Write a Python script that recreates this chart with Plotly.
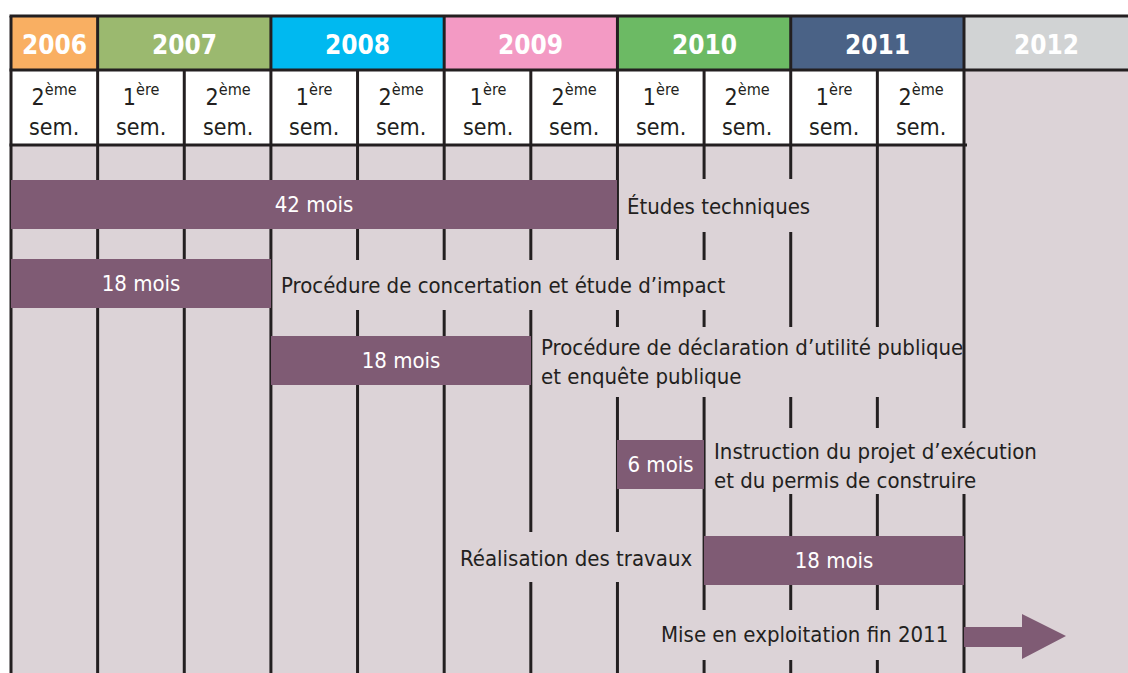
import plotly.graph_objects as go

# ---------------- data ----------------
years = ["2006", "2007", "2008", "2009", "2010", "2011", "2012"]
year_start_month = [0, 6, 18, 30, 42, 54, 66]      # months since 1 July 2006
year_end_month = [6, 18, 30, 42, 54, 66, None]     # None = open-ended
year_colors = ["#F9AF62", "#9BB96F", "#00B9F0", "#F39AC4", "#6CBA64", "#4A6286", "#D1D3D4"]

semester_labels = [
    "2<sup>ème</sup><br>sem.", "1<sup>ère</sup><br>sem.", "2<sup>ème</sup><br>sem.",
    "1<sup>ère</sup><br>sem.", "2<sup>ème</sup><br>sem.", "1<sup>ère</sup><br>sem.",
    "2<sup>ème</sup><br>sem.", "1<sup>ère</sup><br>sem.", "2<sup>ème</sup><br>sem.",
    "1<sup>ère</sup><br>sem.", "2<sup>ème</sup><br>sem.",
]
semester_length = 6

tasks = [
    "Études techniques",
    "Procédure de concertation et étude d’impact",
    "Procédure de déclaration d’utilité publique<br>et enquête publique",
    "Instruction du projet d’exécution<br>et du permis de construire",
    "Réalisation des travaux",
]
task_start = [0, 0, 18, 42, 48]
task_duration = [42, 18, 18, 6, 18]
label_side = ["right", "right", "right", "right", "left"]

milestone_label = "Mise en exploitation fin 2011"
milestone_month = 66

# ---------------- layout / style ----------------
W, H = 1128, 673
X0_PX, PX_PER_MONTH = 11, (964 - 11) / 66.0
x_min = -X0_PX / PX_PER_MONTH
x_max = (W - X0_PX) / PX_PER_MONTH

row_y = [204, 283, 360, 464, 560]
arrow_y = 636
bar_h = 49
y_top, y_year, y_sem, y_bottom = 16, 70, 145, H

BG = "#DCD3D7"
BAR = "#7F5B74"
INK = "#231F20"
FONT = "DejaVu Sans Condensed, Roboto Condensed, Liberation Sans Narrow, Open Sans, sans-serif"
LW = 3


def m(px):
    return (px - X0_PX) / PX_PER_MONTH


# gap boxes hiding the grid lines behind each label: (x0_px, x1_px, y0, y1)
label_boxes = [
    (622, 808, 179, 232),
    (275, 722, 260, 310),
    (535, 958, 327, 397),
    (710, 1045, 428, 494),
    (462, 701, 532, 582),
    (652, 958, 610, 660),
]

fig = go.Figure()

fig.add_trace(go.Bar(
    orientation="h",
    base=task_start,
    x=task_duration,
    y=row_y,
    width=bar_h,
    marker=dict(color=BAR, line=dict(width=0)),
    text=[f"{d} mois" for d in task_duration],
    textposition="inside",
    insidetextanchor="middle",
    textangle=0,
    constraintext="none",
    textfont=dict(family=FONT, size=22, color="white"),
    hoverinfo="skip",
    showlegend=False,
))

shapes = []
n_sem = len(semester_labels)
# body background
shapes.append(dict(type="rect", xref="x", yref="y", x0=x_min, x1=x_max,
                   y0=y_year, y1=y_bottom, fillcolor=BG, line_width=0, layer="below"))
# white strip left of the table
shapes.append(dict(type="rect", xref="x", yref="y", x0=x_min, x1=0,
                   y0=0, y1=y_bottom, fillcolor="white", line_width=0, layer="below"))
# semester row background
shapes.append(dict(type="rect", xref="x", yref="y", x0=0, x1=n_sem * semester_length,
                   y0=y_year, y1=y_sem, fillcolor="white", line_width=0, layer="below"))
# year cells
for i, yr in enumerate(years):
    x1 = year_end_month[i] if year_end_month[i] is not None else x_max
    shapes.append(dict(type="rect", xref="x", yref="y", x0=year_start_month[i], x1=x1,
                       y0=y_top, y1=y_year, fillcolor=year_colors[i], line_width=0, layer="below"))
# vertical lines: year row
for s in year_start_month:
    shapes.append(dict(type="line", xref="x", yref="y", x0=s, x1=s, y0=y_top, y1=y_year,
                       line=dict(color=INK, width=LW), layer="below"))
# vertical lines: semester row + body
for k in range(n_sem + 1):
    xv = k * semester_length
    shapes.append(dict(type="line", xref="x", yref="y", x0=xv, x1=xv, y0=y_year, y1=y_bottom,
                       line=dict(color=INK, width=LW), layer="below"))
# label gap boxes
for (a, b, c, d) in label_boxes:
    shapes.append(dict(type="rect", xref="x", yref="y", x0=m(a), x1=m(b), y0=c, y1=d,
                       fillcolor=BG, line_width=0, layer="below"))
# horizontal lines
shapes.append(dict(type="line", xref="x", yref="y", x0=m(X0_PX - 1.5), x1=x_max, y0=y_top, y1=y_top,
                   line=dict(color=INK, width=LW), layer="below"))
shapes.append(dict(type="line", xref="x", yref="y", x0=m(X0_PX - 1.5), x1=x_max, y0=y_year, y1=y_year,
                   line=dict(color=INK, width=LW), layer="below"))
shapes.append(dict(type="line", xref="x", yref="y", x0=m(X0_PX - 1.5), x1=n_sem * semester_length + m(14),
                   y0=y_sem, y1=y_sem, line=dict(color=INK, width=LW), layer="below"))

# milestone arrow
a0 = milestone_month
a_shaft = milestone_month + 58 / PX_PER_MONTH
a_tip = milestone_month + 102 / PX_PER_MONTH
path = (f"M {a0},{arrow_y - 9} L {a_shaft},{arrow_y - 9} L {a_shaft},{arrow_y - 22} "
        f"L {a_tip},{arrow_y} L {a_shaft},{arrow_y + 23} L {a_shaft},{arrow_y + 11} "
        f"L {a0},{arrow_y + 11} Z")
shapes.append(dict(type="path", xref="x", yref="y", path=path, fillcolor=BAR,
                   line_width=0, layer="above"))

annotations = []
for i, yr in enumerate(years):
    x1 = year_end_month[i] if year_end_month[i] is not None else x_max
    annotations.append(dict(x=(year_start_month[i] + x1) / 2, y=(y_top + y_year) / 2 + 2,
                            xref="x", yref="y", text=f"<b>{yr}</b>", showarrow=False,
                            font=dict(family=FONT, size=26, color="white")))
for k, lab in enumerate(semester_labels):
    annotations.append(dict(x=(k + 0.5) * semester_length, y=(y_year + y_sem) / 2 + 2,
                            xref="x", yref="y", text=lab, showarrow=False,
                            font=dict(family=FONT, size=23, color=INK)))
for i, t in enumerate(tasks):
    if label_side[i] == "right":
        annotations.append(dict(x=task_start[i] + task_duration[i], y=row_y[i] + 2,
                                xref="x", yref="y", text=t, showarrow=False,
                                xanchor="left", align="left", xshift=8,
                                font=dict(family=FONT, size=22, color=INK)))
    else:
        annotations.append(dict(x=task_start[i], y=row_y[i] - 2,
                                xref="x", yref="y", text=t, showarrow=False,
                                xanchor="right", align="right", xshift=-10,
                                font=dict(family=FONT, size=22, color=INK)))
annotations.append(dict(x=milestone_month, y=arrow_y - 2, xref="x", yref="y",
                        text=milestone_label, showarrow=False, xanchor="right",
                        xshift=-14, font=dict(family=FONT, size=22, color=INK)))

fig.update_layout(
    width=W, height=H,
    margin=dict(l=0, r=0, t=0, b=0),
    paper_bgcolor="white", plot_bgcolor="white",
    xaxis=dict(range=[x_min, x_max], visible=False, fixedrange=True),
    yaxis=dict(range=[H, 0], visible=False, fixedrange=True),
    shapes=shapes, annotations=annotations,
    bargap=0, showlegend=False,
)

fig.write_html(
    "out.html",
    config={"displayModeBar": False},
    post_script="document.body.style.margin='0';document.body.style.overflow='hidden';",
)
